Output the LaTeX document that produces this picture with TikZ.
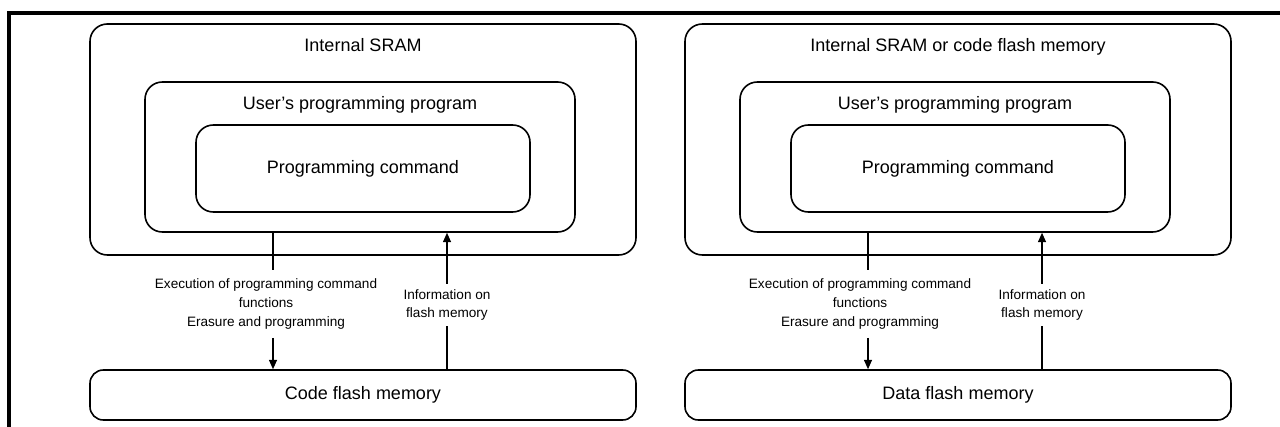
\documentclass[tikz,border=0pt]{standalone}
\usepackage{fontspec}
\setmainfont{Liberation Sans}
\usetikzlibrary{arrows.meta, positioning, calc}
\tikzset{
  obox/.style={
    rectangle, rounded corners=13pt,
    draw=black, line width=1.2pt,
    minimum width=409.5pt, minimum height=173.25pt, inner sep=0pt
  },
  ubox/.style={
    rectangle, rounded corners=13pt,
    draw=black, line width=1.2pt,
    minimum width=322.5pt, minimum height=112.5pt, inner sep=0pt
  },
  pbox/.style={
    rectangle, rounded corners=13pt,
    draw=black, line width=1.2pt,
    minimum width=250.5pt, minimum height=65.25pt, inner sep=0pt,
    font=\fontsize{13.5}{15}\selectfont
  },
  mbox/.style={
    rectangle, rounded corners=10pt,
    draw=black, line width=1.2pt,
    minimum width=409.5pt, minimum height=37.5pt, inner sep=0pt,
    font=\fontsize{13.5}{15}\selectfont
  },
  ttl/.style={font=\fontsize{13.5}{15}\selectfont, inner sep=0pt, anchor=base},
  lbl/.style={font=\fontsize{10.2}{14}\selectfont, align=center, inner xsep=0pt},
  lin/.style={line width=0.9pt},
  arr/.style={-{Triangle[length=7pt,width=6pt]}, line width=0.9pt},
  frm/.style={line width=2.3pt},
}
\begin{document}
\begin{tikzpicture}[x=0.75pt, y=-0.75pt]
  \useasboundingbox (0,0) rectangle (1280,427);
  \draw[frm] (1290,13) -- (9,13) -- (9,437);

  % left: internal SRAM / code flash
  \node[obox] (oa) at (363,139.5) {};
  \node[ttl] (ta) at (363,52) {Internal SRAM};
  \node[ubox] (ua) at (360,157) {};
  \node[ttl] (sa) at (360,110) {User’s programming program};
  \node[pbox] (pa) at (363,168.5) {Programming command};
  \node[mbox] (ca) at (363,395) {Code flash memory};
  \node[lbl, inner ysep=6.5pt] (ea) at (266,304) {Execution of programming command\\functions\\Erasure and programming};
  \node[lbl, inner ysep=4pt] (ia) at (447,305) {Information on\\flash memory};
  \coordinate (da) at (273,304);

  \draw[lin] (ua.south -| da) -- (ea.north -| da);
  \draw[arr] (ea.south -| da) -- (ca.north -| da);
  \draw[lin] (ca.north -| ia) -- (ia.south);
  \draw[arr] (ia.north) -- (ua.south -| ia);

  % right: internal SRAM or code flash / data flash
  \node[obox] (ob) at (958,139.5) {};
  \node[ttl] (tb) at (958,52) {Internal SRAM or code flash memory};
  \node[ubox] (ub) at (955,157) {};
  \node[ttl] (sb) at (955,110) {User’s programming program};
  \node[pbox] (pb) at (958,168.5) {Programming command};
  \node[mbox] (cb) at (958,395) {Data flash memory};
  \node[lbl, inner ysep=6.5pt] (eb) at (860,304) {Execution of programming command\\functions\\Erasure and programming};
  \node[lbl, inner ysep=4pt] (ib) at (1042,305) {Information on\\flash memory};
  \coordinate (db) at (868,304);

  \draw[lin] (ub.south -| db) -- (eb.north -| db);
  \draw[arr] (eb.south -| db) -- (cb.north -| db);
  \draw[lin] (cb.north -| ib) -- (ib.south);
  \draw[arr] (ib.north) -- (ub.south -| ib);
\end{tikzpicture}
\end{document}
